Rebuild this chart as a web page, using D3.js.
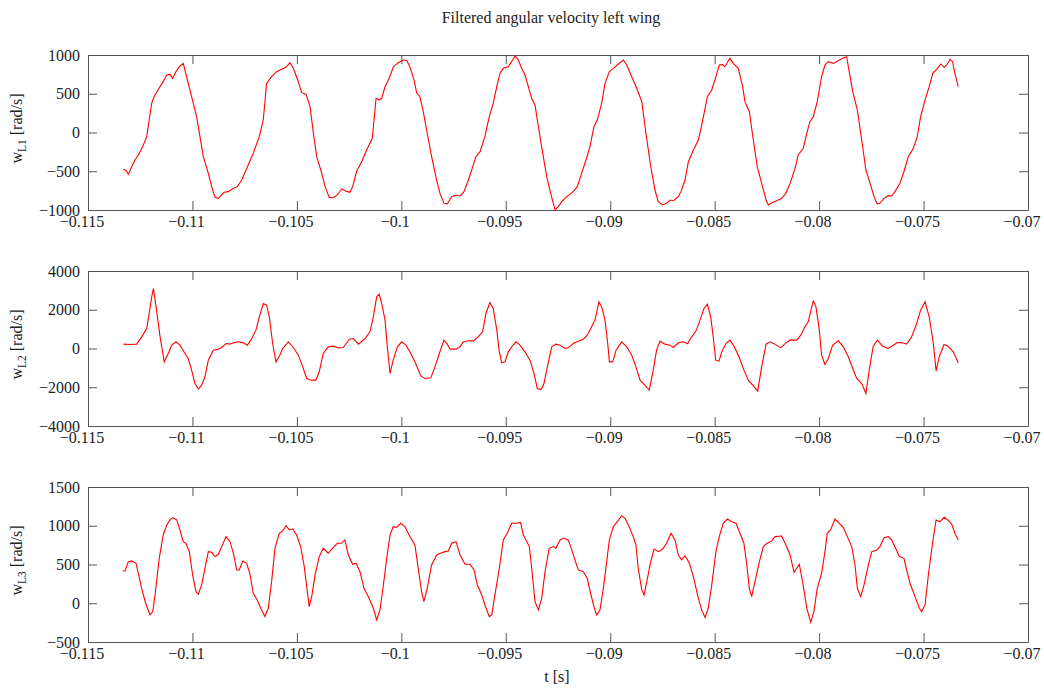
<!DOCTYPE html>
<html><head><meta charset="utf-8">
<script src="https://cdn.jsdelivr.net/npm/d3@7"></script>
<style>body{margin:0;background:#fff}svg{display:block}</style>
</head><body><svg id="c" width="1044" height="688"></svg>
<script>
const chartTitle = "Filtered angular velocity left wing";
const xLabel = "t [s]";
const xTicks = [-0.115,-0.11,-0.105,-0.1,-0.095,-0.09,-0.085,-0.08,-0.075,-0.07];
const yTicks1 = [-1000,-500,0,500,1000];
const yTicks2 = [-4000,-2000,0,2000,4000];
const yTicks3 = [-500,0,500,1000,1500];
const ySubs = ["L1","L2","L3"];

const t1 = [-0.11331,-0.11318,-0.11307,-0.11291,-0.11275,-0.11254,-0.11235,-0.11219,-0.11207,-0.11195,-0.11184,-0.11163,-0.11140,-0.11123,-0.11107,-0.11095,-0.11079,-0.11060,-0.11044,-0.11028,-0.11004,-0.10980,-0.10964,-0.10948,-0.10924,-0.10908,-0.10892,-0.10876,-0.10860,-0.10849,-0.10828,-0.10804,-0.10785,-0.10764,-0.10740,-0.10709,-0.10680,-0.10661,-0.10645,-0.10621,-0.10597,-0.10573,-0.10552,-0.10533,-0.10517,-0.10496,-0.10477,-0.10456,-0.10437,-0.10421,-0.10405,-0.10381,-0.10365,-0.10345,-0.10326,-0.10307,-0.10285,-0.10262,-0.10246,-0.10233,-0.10214,-0.10190,-0.10166,-0.10139,-0.10121,-0.10106,-0.10094,-0.10078,-0.10058,-0.10038,-0.10015,-0.09991,-0.09974,-0.09959,-0.09939,-0.09926,-0.09911,-0.09895,-0.09876,-0.09855,-0.09831,-0.09815,-0.09796,-0.09780,-0.09759,-0.09738,-0.09719,-0.09700,-0.09679,-0.09658,-0.09643,-0.09623,-0.09600,-0.09579,-0.09560,-0.09543,-0.09528,-0.09512,-0.09488,-0.09472,-0.09456,-0.09440,-0.09424,-0.09408,-0.09392,-0.09376,-0.09360,-0.09344,-0.09323,-0.09304,-0.09285,-0.09264,-0.09249,-0.09232,-0.09208,-0.09177,-0.09158,-0.09137,-0.09116,-0.09097,-0.09078,-0.09062,-0.09041,-0.09025,-0.09004,-0.08985,-0.08961,-0.08937,-0.08921,-0.08897,-0.08873,-0.08849,-0.08829,-0.08806,-0.08786,-0.08770,-0.08749,-0.08730,-0.08714,-0.08698,-0.08674,-0.08661,-0.08642,-0.08626,-0.08602,-0.08578,-0.08557,-0.08535,-0.08514,-0.08494,-0.08478,-0.08462,-0.08451,-0.08427,-0.08411,-0.08387,-0.08366,-0.08355,-0.08334,-0.08315,-0.08296,-0.08275,-0.08254,-0.08243,-0.08227,-0.08203,-0.08179,-0.08159,-0.08139,-0.08115,-0.08100,-0.08076,-0.08059,-0.08044,-0.08028,-0.08009,-0.07988,-0.07972,-0.07956,-0.07932,-0.07908,-0.07887,-0.07868,-0.07856,-0.07839,-0.07817,-0.07796,-0.07776,-0.07756,-0.07737,-0.07722,-0.07709,-0.07689,-0.07669,-0.07653,-0.07637,-0.07613,-0.07594,-0.07573,-0.07549,-0.07530,-0.07514,-0.07493,-0.07473,-0.07456,-0.07437,-0.07418,-0.07401,-0.07389,-0.07373,-0.07361,-0.07350,-0.07334];
const w1 = [-475,-490,-540,-441,-355,-269,-161,-54,161,376,462,557,656,742,750,699,785,858,892,720,462,204,-54,-312,-527,-699,-837,-849,-806,-772,-763,-720,-699,-613,-462,-269,-54,161,634,720,785,815,841,901,828,677,514,493,333,-10,-312,-527,-699,-837,-841,-806,-729,-760,-772,-699,-500,-376,-226,-75,441,419,441,591,699,849,901,935,930,849,677,506,462,268,-10,-312,-613,-785,-914,-922,-828,-806,-819,-763,-613,-441,-312,-247,-54,204,376,591,763,828,849,914,987,935,828,742,591,441,355,75,-269,-570,-785,-1000,-957,-893,-828,-763,-699,-527,-355,-183,75,161,376,634,785,828,884,935,871,720,570,398,-10,-441,-742,-893,-935,-914,-871,-880,-828,-760,-613,-380,-226,-97,161,462,548,720,871,875,849,957,892,828,591,398,268,-97,-441,-656,-871,-935,-906,-880,-849,-785,-656,-462,-290,-204,-10,140,204,398,720,871,914,892,927,957,978,785,527,290,-97,-484,-656,-828,-922,-914,-849,-815,-819,-763,-656,-506,-312,-204,-54,204,419,591,763,815,884,841,871,944,914,763,591];

const t2 = [-0.11331,-0.11299,-0.11267,-0.11243,-0.11219,-0.11207,-0.11195,-0.11187,-0.11174,-0.11155,-0.11135,-0.11116,-0.11099,-0.11079,-0.11060,-0.11036,-0.11020,-0.11004,-0.10988,-0.10972,-0.10956,-0.10940,-0.10924,-0.10900,-0.10876,-0.10860,-0.10839,-0.10820,-0.10804,-0.10781,-0.10757,-0.10737,-0.10716,-0.10696,-0.10680,-0.10661,-0.10645,-0.10632,-0.10616,-0.10600,-0.10584,-0.10568,-0.10541,-0.10517,-0.10493,-0.10472,-0.10453,-0.10429,-0.10409,-0.10393,-0.10374,-0.10350,-0.10326,-0.10302,-0.10278,-0.10249,-0.10230,-0.10205,-0.10174,-0.10150,-0.10134,-0.10118,-0.10106,-0.10094,-0.10078,-0.10067,-0.10054,-0.10039,-0.10019,-0.09998,-0.09978,-0.09959,-0.09935,-0.09906,-0.09887,-0.09859,-0.09839,-0.09818,-0.09796,-0.09780,-0.09767,-0.09738,-0.09719,-0.09703,-0.09679,-0.09655,-0.09632,-0.09611,-0.09595,-0.09576,-0.09560,-0.09543,-0.09532,-0.09520,-0.09504,-0.09488,-0.09472,-0.09451,-0.09432,-0.09408,-0.09384,-0.09365,-0.09349,-0.09331,-0.09317,-0.09301,-0.09280,-0.09260,-0.09240,-0.09217,-0.09201,-0.09177,-0.09153,-0.09129,-0.09110,-0.09089,-0.09073,-0.09054,-0.09041,-0.09025,-0.09012,-0.09004,-0.08988,-0.08972,-0.08945,-0.08921,-0.08897,-0.08877,-0.08857,-0.08834,-0.08813,-0.08794,-0.08778,-0.08762,-0.08738,-0.08714,-0.08698,-0.08674,-0.08650,-0.08630,-0.08610,-0.08589,-0.08570,-0.08551,-0.08535,-0.08519,-0.08507,-0.08495,-0.08479,-0.08466,-0.08446,-0.08427,-0.08407,-0.08382,-0.08360,-0.08339,-0.08318,-0.08294,-0.08275,-0.08254,-0.08235,-0.08211,-0.08184,-0.08159,-0.08139,-0.08107,-0.08088,-0.08068,-0.08052,-0.08039,-0.08028,-0.08015,-0.07999,-0.07988,-0.07972,-0.07956,-0.07935,-0.07908,-0.07884,-0.07860,-0.07839,-0.07820,-0.07796,-0.07776,-0.07760,-0.07741,-0.07721,-0.07696,-0.07669,-0.07645,-0.07626,-0.07600,-0.07581,-0.07557,-0.07533,-0.07514,-0.07493,-0.07473,-0.07453,-0.07440,-0.07425,-0.07402,-0.07382,-0.07358,-0.07334];
const w2 = [224,206,224,602,1032,1806,2666,3096,2150,602,-688,-258,172,344,172,-258,-516,-1118,-1806,-2098,-1892,-1462,-602,-86,-34,52,258,224,292,344,292,172,516,946,1634,2322,2236,1634,258,-688,-396,0,344,52,-344,-946,-1548,-1634,-1634,-1204,-258,86,120,34,52,482,516,224,516,860,1634,2666,2804,2322,1462,86,-1290,-602,86,344,172,-172,-688,-1428,-1548,-1514,-946,-258,430,224,-34,-34,86,344,396,396,602,860,1806,2374,2064,946,-86,-740,-688,-172,86,344,172,-172,-602,-1290,-2064,-2116,-1806,-946,86,224,172,0,34,258,378,482,688,1118,1462,2408,2150,1462,258,-688,-688,-86,344,86,-344,-946,-1634,-1892,-2150,-1118,-86,378,224,172,52,292,344,240,602,912,1462,2064,2288,1634,602,-602,-654,-172,258,430,120,-464,-1118,-1634,-1892,-2202,-946,224,344,224,34,292,430,430,688,1118,1376,1978,2460,2150,946,-344,-826,-516,172,396,86,-430,-1032,-1548,-1806,-2322,-1118,120,430,120,0,172,310,292,224,602,1290,1978,2408,1634,258,-1152,-430,206,120,-172,-740];

const t3 = [-0.11334,-0.11323,-0.11307,-0.11291,-0.11270,-0.11259,-0.11243,-0.11224,-0.11203,-0.11190,-0.11179,-0.11159,-0.11140,-0.11123,-0.11107,-0.11095,-0.11075,-0.11060,-0.11044,-0.11031,-0.11015,-0.10999,-0.10983,-0.10972,-0.10956,-0.10940,-0.10924,-0.10908,-0.10892,-0.10876,-0.10860,-0.10839,-0.10820,-0.10804,-0.10788,-0.10776,-0.10759,-0.10740,-0.10724,-0.10709,-0.10690,-0.10669,-0.10653,-0.10637,-0.10621,-0.10605,-0.10584,-0.10568,-0.10552,-0.10536,-0.10520,-0.10501,-0.10482,-0.10466,-0.10450,-0.10441,-0.10429,-0.10413,-0.10393,-0.10374,-0.10350,-0.10326,-0.10307,-0.10286,-0.10270,-0.10254,-0.10233,-0.10217,-0.10198,-0.10179,-0.10158,-0.10134,-0.10118,-0.10102,-0.10086,-0.10070,-0.10054,-0.10039,-0.10022,-0.10003,-0.09983,-0.09959,-0.09935,-0.09919,-0.09903,-0.09892,-0.09876,-0.09855,-0.09831,-0.09812,-0.09791,-0.09775,-0.09759,-0.09738,-0.09719,-0.09695,-0.09671,-0.09652,-0.09636,-0.09615,-0.09600,-0.09579,-0.09567,-0.09552,-0.09531,-0.09512,-0.09493,-0.09472,-0.09448,-0.09429,-0.09416,-0.09387,-0.09376,-0.09360,-0.09344,-0.09328,-0.09312,-0.09292,-0.09272,-0.09260,-0.09240,-0.09225,-0.09201,-0.09184,-0.09169,-0.09153,-0.09129,-0.09110,-0.09094,-0.09078,-0.09065,-0.09049,-0.09033,-0.09017,-0.09004,-0.08985,-0.08966,-0.08945,-0.08929,-0.08913,-0.08890,-0.08877,-0.08866,-0.08849,-0.08838,-0.08825,-0.08806,-0.08790,-0.08770,-0.08749,-0.08730,-0.08709,-0.08690,-0.08674,-0.08658,-0.08642,-0.08621,-0.08602,-0.08578,-0.08562,-0.08546,-0.08531,-0.08514,-0.08494,-0.08478,-0.08459,-0.08439,-0.08418,-0.08398,-0.08379,-0.08360,-0.08347,-0.08334,-0.08323,-0.08307,-0.08286,-0.08267,-0.08248,-0.08227,-0.08211,-0.08179,-0.08159,-0.08139,-0.08120,-0.08107,-0.08095,-0.08079,-0.08059,-0.08040,-0.08025,-0.08009,-0.07988,-0.07972,-0.07961,-0.07945,-0.07924,-0.07903,-0.07884,-0.07865,-0.07844,-0.07828,-0.07817,-0.07801,-0.07785,-0.07764,-0.07748,-0.07724,-0.07709,-0.07689,-0.07669,-0.07653,-0.07632,-0.07616,-0.07594,-0.07581,-0.07565,-0.07541,-0.07520,-0.07509,-0.07493,-0.07477,-0.07456,-0.07440,-0.07421,-0.07401,-0.07384,-0.07365,-0.07350,-0.07334];
const w3 = [417,417,537,546,516,387,193,0,-151,-108,107,580,881,1010,1075,1105,1075,946,795,774,666,365,150,116,236,451,666,657,602,632,731,860,795,645,430,430,546,516,365,129,43,-86,-172,-65,279,709,903,933,1001,946,959,881,731,494,150,-43,86,365,602,709,645,718,774,774,817,623,503,516,408,193,86,-65,-216,-86,236,580,881,989,980,1032,989,860,752,451,150,21,193,494,623,645,666,675,774,795,623,503,503,430,236,107,-22,-172,-151,107,451,817,903,1032,1032,1044,881,731,451,21,-86,64,408,709,731,709,817,838,817,688,559,430,408,322,129,-43,-151,-86,193,537,817,989,1053,1130,1096,1010,860,752,451,172,107,279,537,700,666,700,774,903,817,623,559,614,516,344,64,-86,-185,-65,236,666,860,1032,1087,1053,1032,903,774,516,193,86,279,537,731,774,804,860,868,752,623,399,451,503,279,-65,-246,-108,193,387,666,903,946,1087,1032,976,860,731,494,193,86,236,494,666,688,731,847,860,817,700,602,580,430,258,86,-65,-108,-22,365,795,1075,1053,1109,1075,1019,903,817];

const panels = [
  {t: t1, w: w1, ticks: yTicks1, sub: ySubs[0], top: 55},
  {t: t2, w: w2, ticks: yTicks2, sub: ySubs[1], top: 271},
  {t: t3, w: w3, ticks: yTicks3, sub: ySubs[2], top: 487}
];

const left = 88, right = 1028, ph = 155;
const font = "'Liberation Serif','Times New Roman',serif";
const axisColor = "#555";
const fs = 16;
const svg = d3.select("#c");

svg.append("text").attr("x", 551).attr("y", 23).attr("text-anchor", "middle")
  .attr("font-family", font).attr("font-size", 16).attr("fill", "#222").text(chartTitle);

const x = d3.scaleLinear().domain([xTicks[0], xTicks[xTicks.length-1]]).range([left, right]);
const fmt = d3.format("");

panels.forEach(p => {
  const y = d3.scaleLinear().domain([p.ticks[0], p.ticks[p.ticks.length-1]]).range([p.top + ph, p.top]);
  const g = svg.append("g");
  const style = sel => {
    sel.selectAll("path.domain").attr("stroke", axisColor);
    sel.selectAll(".tick line").attr("stroke", axisColor);
    sel.selectAll("text").attr("font-family", font).attr("font-size", fs).attr("fill", "#222");
  };
  g.append("g").attr("transform", `translate(0,${p.top+ph})`)
    .call(d3.axisBottom(x).tickValues(xTicks).tickFormat(fmt).tickSize(-9).tickSizeOuter(0).tickPadding(6)).call(style)
    .selectAll(".tick text").attr("dx", -6.5);
  g.append("g").attr("transform", `translate(0,${p.top})`)
    .call(d3.axisTop(x).tickValues(xTicks).tickFormat("").tickSize(-9).tickSizeOuter(0)).call(style);
  g.append("g").attr("transform", `translate(${left},0)`)
    .call(d3.axisLeft(y).tickValues(p.ticks).tickFormat(fmt).tickSize(-9).tickSizeOuter(0).tickPadding(8)).call(style);
  g.append("g").attr("transform", `translate(${right},0)`)
    .call(d3.axisRight(y).tickValues(p.ticks).tickFormat("").tickSize(-9).tickSizeOuter(0)).call(style);

  const data = p.t.map((tt, i) => [tt, p.w[i]]);
  g.append("path").datum(data)
    .attr("fill", "none").attr("stroke", "#ff0000").attr("stroke-width", 1.1)
    .attr("d", d3.line().x(d => x(d[0])).y(d => y(d[1])));

  const cy = p.top + ph / 2;
  const lab = g.append("text").attr("transform", `translate(22,${cy - 4}) rotate(-90)`)
    .attr("text-anchor", "middle").attr("font-family", font).attr("font-size", fs).attr("fill", "#222");
  lab.append("tspan").text("w");
  lab.append("tspan").attr("font-size", 11.5).attr("dy", 4).text(p.sub);
  lab.append("tspan").attr("dy", -4).text(" [rad/s]");
});

svg.append("text").attr("x", 557).attr("y", 682).attr("text-anchor", "middle")
  .attr("font-family", font).attr("font-size", fs).attr("fill", "#222").text(xLabel);
</script>
</body></html>
